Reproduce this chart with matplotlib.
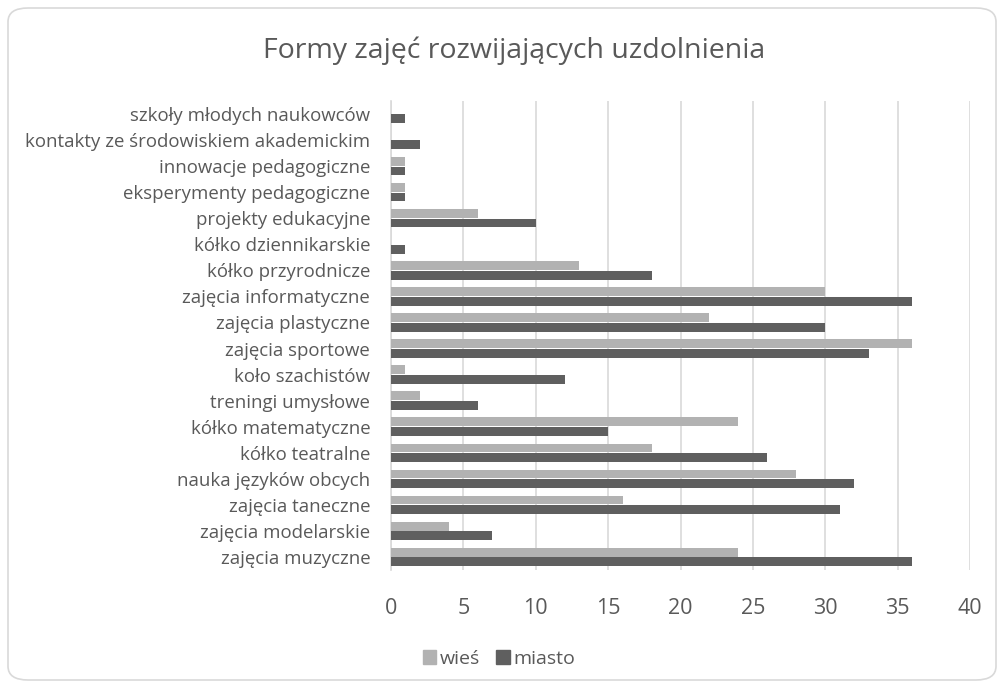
import numpy as np
import matplotlib.pyplot as plt
from matplotlib.patches import FancyBboxPatch, Patch

plt.rcParams['font.family'] = ['Open Sans', 'DejaVu Sans']

# categories listed bottom to top
categories = [
    "zajęcia muzyczne", "zajęcia modelarskie", "zajęcia taneczne",
    "nauka języków obcych", "kółko teatralne", "kółko matematyczne",
    "treningi umysłowe", "koło szachistów", "zajęcia sportowe",
    "zajęcia plastyczne", "zajęcia informatyczne", "kółko przyrodnicze",
    "kółko dziennikarskie", "projekty edukacyjne", "eksperymenty pedagogiczne",
    "innowacje pedagogiczne", "kontakty ze środowiskiem akademickim",
    "szkoły młodych naukowców",
]
wies = [24, 4, 16, 28, 18, 24, 2, 1, 36, 22, 30, 13, 0, 6, 1, 1, 0, 0]
miasto = [36, 7, 31, 32, 26, 15, 6, 12, 33, 30, 36, 18, 1, 10, 1, 1, 2, 1]
x_ticks = [0, 5, 10, 15, 20, 25, 30, 35, 40]

c_wies = "#b2b2b2"
c_miasto = "#5f5f5f"
txt = "#595959"

fig = plt.figure(figsize=(10.04, 6.88), dpi=100)
ax = fig.add_axes([391 / 1004, 1 - 570 / 688, (970 - 391) / 1004, (570 - 101) / 688])

# chart frame with rounded corners
frame = FancyBboxPatch((8 / 1004, 8 / 688), 988 / 1004, 672 / 688,
                       boxstyle="round,pad=0,rounding_size=0.02",
                       transform=fig.transFigure, facecolor="white",
                       edgecolor="#d9d9d9", linewidth=1.2, zorder=-10)
fig.patches.append(frame)

y = np.arange(len(categories))
h = 0.34
ax.barh(y + 0.185, wies, height=h, color=c_wies, label="wieś", zorder=3)
ax.barh(y - 0.185, miasto, height=h, color=c_miasto, label="miasto", zorder=3)

ax.set_xlim(0, 40)
ax.set_ylim(-0.5, len(categories) - 0.5)
ax.set_xticks(x_ticks)
ax.set_yticks(y)
ax.set_yticklabels(categories)
ax.tick_params(axis="both", length=0, colors=txt)
ax.tick_params(axis="y", labelsize=13.4, pad=15)
ax.tick_params(axis="x", labelsize=15.5, pad=20)
ax.grid(axis="x", color="#d9d9d9", linewidth=1.2, zorder=0)
for s in ["top", "right", "bottom"]:
    ax.spines[s].set_visible(False)
ax.spines["left"].set_color("#d9d9d9")
ax.spines["left"].set_linewidth(1.2)

fig.text(0.512, 1 - 51 / 688, "Formy zajęć rozwijających uzdolnienia",
         ha="center", va="center", fontsize=20.5, color=txt)

handles = [Patch(color=c_wies, label="wieś"), Patch(color=c_miasto, label="miasto")]
fig.legend(handles=handles, loc="center", bbox_to_anchor=(0.497, 1 - 659 / 688),
           ncol=2, frameon=False, fontsize=14, handlelength=0.7, handleheight=0.7,
           handletextpad=0.2, columnspacing=0.8, labelcolor=txt)

fig.savefig("out.png", dpi=100)
